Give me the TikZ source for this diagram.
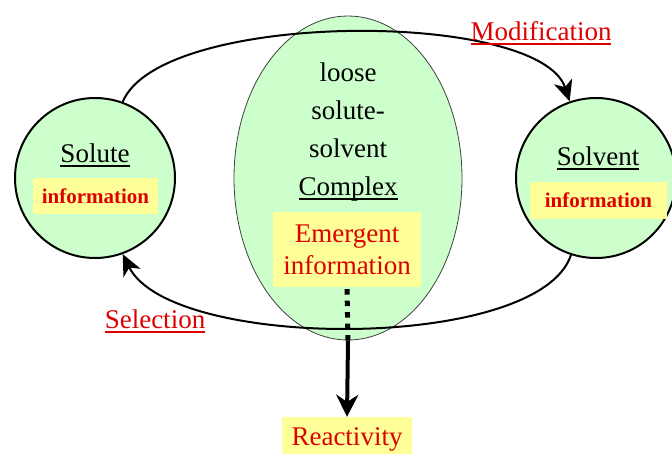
\documentclass[tikz,border=0pt]{standalone}
\usepackage{fontspec}
\setmainfont{Liberation Serif}
\usetikzlibrary{arrows.meta,shapes.geometric}
\definecolor{blobgreen}{HTML}{CCFFCC}
\definecolor{notepad}{HTML}{FFFF99}
\definecolor{inkred}{HTML}{DD0000}
% underline at a fixed distance below the baseline, in the current colour
\newcommand\ulined[1]{\setbox0\hbox{#1}\rlap{\rule[-4.5pt]{\wd0}{1.2pt}}\box0}
\begin{document}
\begin{tikzpicture}[x=1pt,y=-1pt,
  big/.style={font=\fontsize{27}{38}\selectfont, inner sep=0pt},
  notebox/.style={fill=notepad, text=inkred, inner sep=0pt},
  smallnote/.style={notebox, font=\fontsize{21}{24}\selectfont\bfseries},
  partner/.style={circle, draw=black, line width=2pt, fill=blobgreen, minimum size=160pt, inner sep=0pt},
  loop/.style={line width=2pt, -{Stealth[length=21pt,width=19pt,inset=6pt]}},
  redlabel/.style={big, text=inkred, anchor=base}]
\useasboundingbox (0,0) rectangle (672,453);

% the two partners and the complex between them
\node[partner] (sol) at (95,178) {};
\node[partner] (solv) at (596,178) {};
\node[ellipse, draw=black!75, line width=0.8pt, fill=blobgreen,
      minimum width=228pt, minimum height=324pt, inner sep=0pt] (cplx) at (348,178) {};

% cycle of modification and selection
\draw[loop] (sol.70) .. controls +(38,-92) and +(-30,-92) .. (solv.109);
\draw[loop] (solv.-108) .. controls +(-32,97) and +(48,97) .. (sol.-70);

% texts inside the partners
\node[big, anchor=base] (soltitle) at (95,162) {\ulined{Solute}};
\node[smallnote, minimum width=125pt, minimum height=36pt] (solinfo) at (95.5,196) {information};
\node[big, anchor=base] (solvtitle) at (598,165) {\ulined{Solvent}};
\node[smallnote, minimum width=137pt, minimum height=37pt] (solvinfo) at (598.5,200.5) {information};

% texts inside the complex (base anchor sits on the last line)
\node[big, align=center, anchor=base] (cplxtext) at (348,195)
  {loose\\solute-\\solvent\\\ulined{Complex}};
\node[notebox, minimum width=148pt, minimum height=75pt, align=center,
      font=\fontsize{27}{32}\selectfont] (emerg) at (347,249.5) {Emergent\\information};

% labels of the cycle
\node[redlabel] (modlbl) at (541,40) {\ulined{Modification}};
\node[redlabel] (sellbl) at (155,328) {\ulined{Selection}};

% outcome
\node[notebox, big, minimum width=130pt, minimum height=40pt, text depth=0pt] (react) at (347,437) {Reactivity};
\draw[line width=5pt, dash pattern=on 5.5pt off 6pt] ([yshift=-2pt]emerg.south) -- (cplx.south);
\draw[line width=4pt, -{Stealth[length=22pt,width=22pt]}] (cplx.south) -- (react.north);
\end{tikzpicture}
\end{document}
